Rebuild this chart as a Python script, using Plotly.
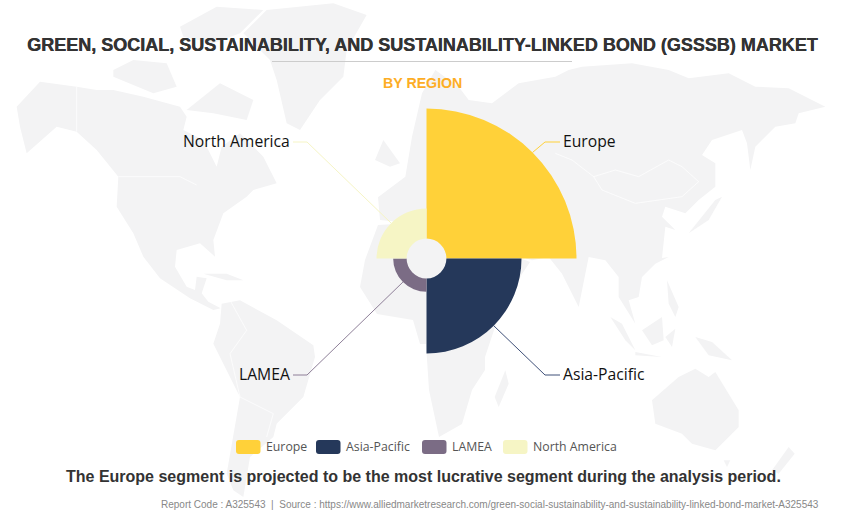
import math
import plotly.graph_objects as go

# ---- data ----
regions = ["Europe", "Asia-Pacific", "LAMEA", "North America"]
shares = [52.3, 30.2, 5.4, 12.1]
centre_angles = [45, 135, 225, 315]
colors = ["#FFD139", "#25385A", "#7B6C85", "#F6F5C5"]
line_colors = ["#FFD139", "#3F5078", "#8E7F98", "#F6F5C5"]

TITLE = "GREEN, SOCIAL, SUSTAINABILITY, AND SUSTAINABILITY-LINKED BOND (GSSSB) MARKET"
SUB = "BY REGION"
NOTE = "The Europe segment is projected to be the most lucrative segment during the analysis period."
SOURCE = ("Report Code : A325543  |  Source : https://www.alliedmarketresearch.com/"
          "green-social-sustainability-and-sustainability-linked-bond-market-A325543")

W, H = 845, 515
CX, CY = 426.5, 258.5
R_PX, R_UNITS, HOLE = 199, 80, 8
LAND = "#F3F3F4"

def crop(ox, oy, pts):
    return [(ox + x / 3, oy + y / 3) for x, y in pts]

land = [
    crop(0, 0, [(50,320),(120,245),(230,260),(290,270),(340,270),(430,290),(540,320),(560,350),(550,390),
                (610,420),(650,500),(665,440),(720,400),(790,470),(830,550),(760,570),(740,590),(670,640),
                (640,720),(645,770),(600,730),(530,750),(525,800),(560,860),(585,870),(590,830),(620,835),
                (605,880),(625,905),(662,925),(640,930),(570,895),(480,835),(430,770),(400,700),(350,620),
                (355,530),(290,450),(230,395),(170,380),(80,460),(60,380)]),
    crop(0, 0, [(340,210),(400,180),(500,190),(530,260),(460,280),(340,230)]),
    crop(0, 0, [(560,330),(660,250),(760,300),(740,360),(640,340)]),
    crop(0, 0, [(540,80),(650,20),(790,30),(720,100),(640,130),(550,110)]),
    crop(0, 0, [(730,100),(800,30),(1000,10),(1100,45),(1040,150),(1030,230),(960,300),(900,390),(860,370),
                (830,240),(810,180)]),
    crop(0, 257, [(610,50),(680,50),(730,70),(680,70)]),
    crop(0, 257, [(665,140),(720,130),(830,190),(940,265),(945,300),(910,420),(830,500),(820,540),(750,600),
                  (730,720),(700,700),(680,650),(720,420),(640,260),(660,200)]),
    # Africa
    [(378,225),(430,222),(500,250),(530,262),(522,274),(495,327),(485,357),(485,370),(472,390),(462,424),
     (439,437),(429,390),(426,344),(420,344),(413,320),(377,314),(360,287),(365,260)],
    # Eurasia
    crop(422, 0, [(-130,590),(-50,530),(-30,410),(0,280),(40,210),(110,260),(140,300),(210,310),(250,280),
                  (290,250),(400,230),(440,210),(480,200),(630,190),(740,210),(800,235),(920,220),(1000,260),
                  (1100,265),(1210,320),(1130,340),(1120,370),(1060,380),(1000,440),(985,510),(975,430),
                  (960,390),(870,420),(840,465),(880,490),(880,560),(830,600),(790,640),(730,620),(720,650),
                  (760,690),(730,680),(720,774)] ) +
    crop(422, 257, [(740,0),(700,20),(660,60),(650,120),(620,130),(640,200),(590,120),(590,60),(550,10),
                    (500,0),(470,150),(420,50),(380,0),(330,10),(300,0)]) +
    [(500,258),(470,230),(440,222),(400,222),(380,220),(378,197)],
    crop(0, 0, [(1125,480),(1150,420),(1200,490),(1170,500)]),
    crop(422, 0, [(800,700),(880,600),(900,590),(860,660)]),
    crop(422, 257, [(565,180),(600,200),(640,280),(610,250)]),
    crop(422, 257, [(660,220),(720,180),(725,250),(690,265)]),
    crop(422, 257, [(735,70),(770,150),(760,180),(740,140)]),
    crop(422, 257, [(730,240),(760,215),(750,270)]),
    crop(422, 257, [(640,285),(720,300),(640,295)]),
    crop(422, 257, [(820,240),(870,255),(930,310),(860,295)]),
    crop(422, 257, [(690,430),(770,360),(820,335),(860,360),(880,345),(950,460),(950,510),(880,580),(810,560),
                    (780,530),(700,500)]),
    crop(422, 257, [(905,610),(925,610),(915,630)]),
    crop(422, 257, [(1100,570),(1118,590),(1070,650),(1050,640)]),
    crop(422, 257, [(250,340),(260,380),(230,450),(218,420)]),
]
borders = [
    crop(0, 0, [(230,260),(230,395)]),
    crop(0, 0, [(355,530),(540,530),(590,555)]),
    crop(422, 0, [(400,460),(450,480),(515,530),(580,510),(650,530),(740,480),(780,500),(830,545),(780,590),
                  (640,610),(540,570),(515,530)]),
    crop(0, 257, [(690,130),(740,220),(690,290),(720,420),(820,470),(800,540)]),
]

fig = go.Figure()

for poly in land:
    xs, ys = zip(*poly)
    fig.add_trace(go.Scatter(x=list(xs), y=list(ys), mode="lines", fill="toself", fillcolor=LAND,
                             line=dict(width=0, color=LAND), hoverinfo="skip", showlegend=False))
for poly in borders:
    xs, ys = zip(*poly)
    fig.add_trace(go.Scatter(x=list(xs), y=list(ys), mode="lines", line=dict(width=0.7, color="#FFFFFF"),
                             hoverinfo="skip", showlegend=False))

# rose chart
for name, val, ang, col in zip(regions, shares, centre_angles, colors):
    fig.add_trace(go.Barpolar(r=[val], theta=[ang], width=[90], base=HOLE, name=name,
                              marker=dict(color=col, line=dict(width=0)), showlegend=False))

# leader lines and labels
elbows = [(545, 142, 560), (545, 375, 560), (307, 375, 293), (307, 142, 293)]
for name, val, ang, lc, (ex, ey, tx) in zip(regions, shares, centre_angles, line_colors, elbows):
    r = (val + HOLE) * R_PX / R_UNITS
    sx = CX + r * math.sin(math.radians(ang))
    sy = CY - r * math.cos(math.radians(ang))
    fig.add_trace(go.Scatter(x=[sx, ex, tx], y=[sy, ey, ey], mode="lines", line=dict(width=1, color=lc),
                             hoverinfo="skip", showlegend=False))
    right = tx > ex
    fig.add_annotation(x=tx + (1 if right else -1), y=ey - 1, xref="x", yref="y", text=name, showarrow=False,
                       xanchor="left" if right else "right", yanchor="middle",
                       font=dict(family="Open Sans", size=15.7, color="#111111"))

# legend
swatches = [236, 316, 422, 503]
for name, col, x0 in zip(regions, colors, swatches):
    x1, y0, y1, q = x0 + 24.5, 440, 454, 3
    path = (f"M{x0+q},{y0} L{x1-q},{y0} Q{x1},{y0} {x1},{y0+q} L{x1},{y1-q} Q{x1},{y1} {x1-q},{y1} "
            f"L{x0+q},{y1} Q{x0},{y1} {x0},{y1-q} L{x0},{y0+q} Q{x0},{y0} {x0+q},{y0} Z")
    fig.add_shape(type="path", path=path, xref="x", yref="y", fillcolor=col, line=dict(width=0), layer="above")
    fig.add_annotation(x=x1 + 3, y=446, xref="x", yref="y", text=name, showarrow=False, xanchor="left",
                       yanchor="middle", font=dict(family="Open Sans", size=12.3, color="#555555"))

def text(s, x, y, size, color, bold=False, anchor="center", shadow=None):
    f = dict(family="Liberation Sans", size=size, color=color)
    if shadow:
        f["shadow"] = shadow
    fig.add_annotation(x=x, y=y, xref="x", yref="y", text=f"<b>{s}</b>" if bold else s, showarrow=False,
                       xanchor=anchor, yanchor="middle", font=f)

text(TITLE, 422, 45, 18, "#333333", True, shadow="0.4px 0 0 #333333")
text(SUB, 422, 83, 14.2, "#FDAD25", True)
text(NOTE, 423, 476, 16, "#333333", True)
text(SOURCE, 821, 504, 10, "#888888", anchor="right")
fig.add_shape(type="line", x0=272, x1=572, y0=61.5, y1=61.5, xref="x", yref="y", line=dict(width=1, color="#CCCCCC"))

fig.update_layout(
    width=W, height=H, margin=dict(l=0, r=0, t=0, b=0), autosize=False,
    paper_bgcolor="white", plot_bgcolor="rgba(0,0,0,0)", showlegend=False,
    xaxis=dict(range=[0, W], visible=False, domain=[0, 1], fixedrange=True),
    yaxis=dict(range=[H, 0], visible=False, domain=[0, 1], fixedrange=True),
    polar=dict(
        domain=dict(x=[(CX - R_PX) / W, (CX + R_PX) / W], y=[1 - (CY + R_PX) / H, 1 - (CY - R_PX) / H]),
        bgcolor="rgba(0,0,0,0)", barmode="overlay",
        radialaxis=dict(range=[0, R_UNITS], visible=False),
        angularaxis=dict(direction="clockwise", rotation=90, visible=False),
    ),
)
fig.write_html("out.html", config={"displayModeBar": False},
               post_script="document.body.style.margin='0';document.body.style.overflow='hidden';")
